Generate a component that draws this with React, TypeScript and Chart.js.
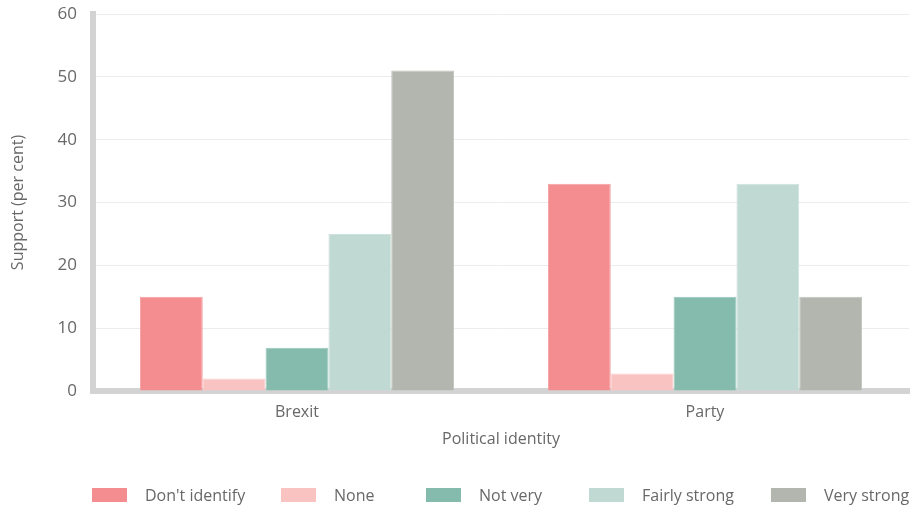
import React, { useEffect, useRef } from "react";
import { Chart, registerables } from "chart.js";

Chart.register(...registerables);

const categories = ["Brexit", "Party"];
const seriesNames = ["Don't identify", "None", "Not very", "Fairly strong", "Very strong"];
const dontIdentify = [15, 33];
const none = [2, 2.8];
const notVery = [6.9, 15];
const fairlyStrong = [25, 33];
const veryStrong = [51, 15];
const seriesValues = [dontIdentify, none, notVery, fairlyStrong, veryStrong];
const seriesColors = ["#f48d8f", "#f9c3c1", "#85bbad", "#c0dad3", "#b3b6af"];
const seriesBorders = ["#f5a0a2", "#fbcfcd", "#97c6ba", "#cde2dc", "#c0c3bc"];
const yTicks = [0, 10, 20, 30, 40, 50, 60];

const FONT = "'Open Sans', Lato, sans-serif";
const TEXT = "#686868";

export default function App() {
  const ref = useRef<HTMLCanvasElement | null>(null);

  useEffect(() => {
    document.body.style.margin = "0";
    const canvas = ref.current;
    if (!canvas) return;
    const chart = new Chart(canvas, {
      type: "bar",
      data: {
        labels: categories,
        datasets: seriesNames.map((name, i) => ({
          label: name,
          data: seriesValues[i],
          backgroundColor: seriesColors[i],
          borderColor: seriesBorders[i],
          borderWidth: 1,
          barPercentage: 1,
          categoryPercentage: 0.77,
        })),
      },
      options: {
        animation: false,
        responsive: false,
        maintainAspectRatio: false,
        layout: { padding: { top: 14, right: 2, bottom: 58.6, left: 0 } },
        plugins: {
          legend: { display: false },
          tooltip: { enabled: false },
        },
        scales: {
          x: {
            afterFit: (scale: any) => {
              scale.height = 58.4;
            },
            grid: { display: false, drawTicks: false },
            border: { display: true, color: "#d3d3d3", width: 6 },
            ticks: { color: TEXT, font: { family: FONT, size: 16 }, padding: 12 },
            title: {
              display: true,
              text: "Political identity",
              color: TEXT,
              font: { family: FONT, size: 16 },
              padding: { top: 8, bottom: 0 },
            },
          },
          y: {
            min: 0,
            max: 60,
            afterBuildTicks: (scale: any) => {
              scale.ticks = yTicks.map((v) => ({ value: v }));
            },
            afterFit: (scale: any) => {
              scale.width = 93;
              scale.paddingTop = 0;
              scale.paddingBottom = 0;
            },
            grid: { color: "#ececec", lineWidth: 1, drawTicks: false },
            border: { display: true, color: "#d3d3d3", width: 6 },
            ticks: { color: TEXT, font: { family: FONT, size: 17 }, padding: 16 },
            title: {
              display: true,
              text: "Support (per cent)",
              color: TEXT,
              font: { family: FONT, size: 16 },
              padding: { top: 8.4, bottom: 0 },
            },
          },
        },
      },
    });
    return () => chart.destroy();
  }, []);

  const legendLeft = [92, 281, 426, 589, 771];

  return (
    <div style={{ position: "relative", width: 911, height: 508, fontFamily: FONT }}>
      <canvas ref={ref} width={911} height={508} style={{ display: "block" }} />
      {seriesNames.map((name, i) => (
        <div
          key={name}
          style={{
            position: "absolute",
            left: legendLeft[i],
            top: 485,
            height: 20,
            display: "flex",
            alignItems: "center",
            whiteSpace: "nowrap",
          }}
        >
          <span
            style={{
              display: "inline-block",
              width: 35,
              height: 14,
              background: seriesColors[i],
              marginRight: 18,
            }}
          />
          <span style={{ color: TEXT, fontSize: 16 }}>{name}</span>
        </div>
      ))}
    </div>
  );
}
